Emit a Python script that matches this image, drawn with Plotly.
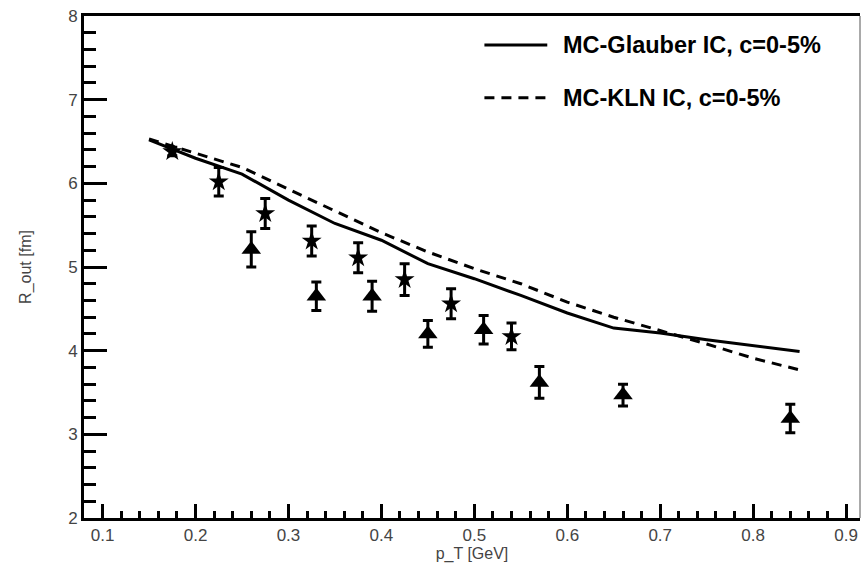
import plotly.graph_objects as go

# Model curves
model_pt = [0.15, 0.20, 0.25, 0.30, 0.35, 0.40, 0.45, 0.50, 0.55, 0.60, 0.65, 0.70, 0.75, 0.80, 0.85]
glauber_r = [6.52, 6.30, 6.11, 5.80, 5.52, 5.32, 5.04, 4.86, 4.66, 4.45, 4.27, 4.21, 4.13, 4.06, 3.99]
kln_r = [6.53, 6.36, 6.19, 5.93, 5.67, 5.41, 5.18, 4.98, 4.80, 4.58, 4.40, 4.24, 4.08, 3.91, 3.77]

# Data: triangles
tri_pt = [0.26, 0.33, 0.39, 0.45, 0.51, 0.57, 0.66, 0.84]
tri_r = [5.21, 4.65, 4.65, 4.20, 4.25, 3.62, 3.47, 3.19]
tri_err = [0.21, 0.17, 0.18, 0.16, 0.17, 0.19, 0.13, 0.17]

# Data: stars
star_pt = [0.175, 0.225, 0.275, 0.325, 0.375, 0.425, 0.475, 0.54]
star_r = [6.38, 6.02, 5.64, 5.31, 5.11, 4.85, 4.56, 4.17]
star_err = [0.05, 0.17, 0.18, 0.18, 0.18, 0.19, 0.18, 0.16]

legend_names = ["MC-Glauber IC, c=0-5%", "MC-KLN IC, c=0-5%"]
x_ticks = [0.1, 0.2, 0.3, 0.4, 0.5, 0.6, 0.7, 0.8, 0.9]
y_ticks = [2, 3, 4, 5, 6, 7, 8]

fig = go.Figure()
fig.add_trace(go.Scatter(x=model_pt, y=glauber_r, mode="lines",
                         line=dict(color="black", width=3), showlegend=False))
fig.add_trace(go.Scatter(x=model_pt, y=kln_r, mode="lines",
                         line=dict(color="black", width=3, dash="10px,7px"), showlegend=False))
fig.add_trace(go.Scatter(x=tri_pt, y=tri_r, mode="markers",
                         marker=dict(symbol="triangle-up", size=17, color="black"),
                         error_y=dict(type="data", array=tri_err, color="black", thickness=3, width=5),
                         showlegend=False))
fig.add_trace(go.Scatter(x=star_pt, y=star_r, mode="markers",
                         marker=dict(symbol="star", size=15, color="black"),
                         error_y=dict(type="data", array=star_err, color="black", thickness=3, width=5),
                         showlegend=False))

# manual legend
leg_y = [0.942, 0.837]
dashes = ["solid", "10px,7px"]
for name, yy, d in zip(legend_names, leg_y, dashes):
    fig.add_shape(type="line", xref="paper", yref="paper", x0=0.516, x1=0.597, y0=yy, y1=yy,
                  line=dict(color="black", width=3, dash=d))
    fig.add_annotation(xref="paper", yref="paper", x=0.615, y=yy, text="<b>%s</b>" % name,
                       showarrow=False, xanchor="left", yanchor="middle",
                       font=dict(family="Liberation Sans, Arial", size=23.5, color="black"))

# right border thin
fig.add_shape(type="line", xref="paper", yref="paper", x0=1, x1=1, y0=0, y1=1,
              line=dict(color="#555", width=1))

fig.update_layout(
    width=862, height=568,
    margin=dict(l=84, r=2, t=16, b=50),
    plot_bgcolor="white", paper_bgcolor="white",
    font=dict(family="Liberation Sans, Arial", size=17, color="#444"),
    showlegend=False,
)
fig.update_xaxes(range=[0.08, 0.915], tickvals=x_ticks, ticktext=[str(v) for v in x_ticks],
                 ticks="inside", ticklen=14, tickwidth=3, tickcolor="black",
                 minor=dict(dtick=0.02, tick0=0.0, ticks="inside", ticklen=7, tickwidth=3, tickcolor="black"),
                 showline=True, linewidth=3, linecolor="black", mirror=True,
                 showgrid=False, zeroline=False,
                 title=dict(text="p_T [GeV]", font=dict(size=16, color="#444"), standoff=2))
fig.update_yaxes(range=[2, 8], tickvals=y_ticks, ticktext=[str(v) for v in y_ticks],
                 ticks="inside", ticklen=23, tickwidth=3, tickcolor="black",
                 minor=dict(dtick=0.2, tick0=2, ticks="inside", ticklen=12, tickwidth=3, tickcolor="black"),
                 showline=True, linewidth=3, linecolor="black", mirror=False,
                 showgrid=False, zeroline=False,
                 title=dict(text="R_out [fm]", font=dict(size=16, color="#444"), standoff=33))

fig.write_html("out.html")
